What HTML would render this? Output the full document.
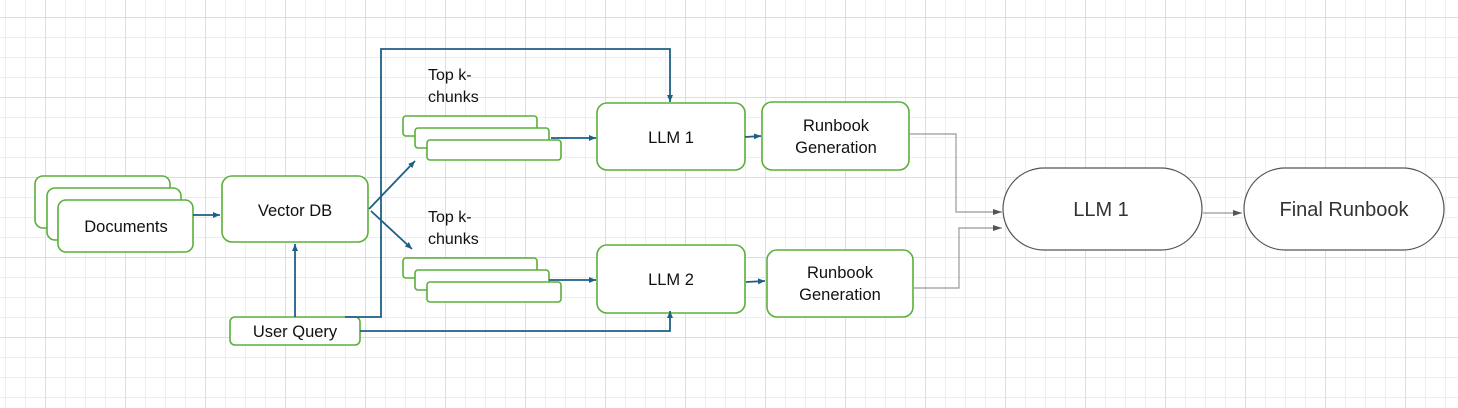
<!DOCTYPE html>
<html><head><meta charset="utf-8"><style>
html,body{margin:0;padding:0;background:#fff;}
svg{display:block;}
text{font-family:"Liberation Sans",sans-serif;fill:#111;}
</style></head><body>
<svg width="1458" height="408" viewBox="0 0 1458 408" xmlns="http://www.w3.org/2000/svg">
<defs>
<pattern id="minor" x="5" y="17" width="20" height="20" patternUnits="userSpaceOnUse">
<path d="M0 0H20M0 0V20" stroke="#e4e4e4" stroke-width="1.2" fill="none"/>
</pattern>
<pattern id="major" x="45" y="17" width="80" height="80" patternUnits="userSpaceOnUse">
<path d="M0 0H80M0 0V80" stroke="#cfcfcf" stroke-width="1.3" fill="none"/>
</pattern>
<marker id="ab" markerWidth="8" markerHeight="8" refX="7" refY="4" orient="auto" markerUnits="userSpaceOnUse"><path d="M0 1L7 4L0 7z" fill="#1f5f87"/></marker>
<marker id="ag" markerWidth="10" markerHeight="8" refX="9" refY="4" orient="auto" markerUnits="userSpaceOnUse"><path d="M0 1L9 4L0 7z" fill="#555"/></marker>
</defs>
<rect width="1458" height="408" fill="url(#minor)"/>
<rect width="1458" height="408" fill="url(#major)"/>

<g fill="#fff" stroke="#5aaf3c" stroke-width="1.6">
<rect x="35" y="176" width="135" height="52" rx="8"/>
<rect x="47" y="188" width="134" height="52" rx="8"/>
<rect x="58" y="200" width="135" height="52" rx="8"/>
<rect x="222" y="176" width="146" height="66" rx="10"/>
<rect x="230" y="317" width="130" height="28" rx="5"/>
<rect x="403" y="116" width="134" height="20" rx="3"/>
<rect x="415" y="128" width="134" height="20" rx="3"/>
<rect x="427" y="140" width="134" height="20" rx="3"/>
<rect x="403" y="258" width="134" height="20" rx="3"/>
<rect x="415" y="270" width="134" height="20" rx="3"/>
<rect x="427" y="282" width="134" height="20" rx="3"/>
<rect x="597" y="103" width="148" height="67" rx="10"/>
<rect x="597" y="245" width="148" height="68" rx="10"/>
<rect x="762" y="102" width="147" height="68" rx="10"/>
<rect x="767" y="250" width="146" height="67" rx="10"/>
</g>

<g fill="none" stroke="#1f5f87" stroke-width="1.8">
<path d="M193 215H220" marker-end="url(#ab)"/>
<path d="M295 317V244" marker-end="url(#ab)"/>
<path d="M345 317H381V49H670V102" marker-end="url(#ab)"/>
<path d="M360 331H670V311" marker-end="url(#ab)"/>
<path d="M369 209L415 161" marker-end="url(#ab)"/>
<path d="M371 211L412 249" marker-end="url(#ab)"/>
<path d="M551 138H596" marker-end="url(#ab)"/>
<path d="M549 280H596" marker-end="url(#ab)"/>
<path d="M745 137L761 136" marker-end="url(#ab)"/>
<path d="M746 282L765 281" marker-end="url(#ab)"/>
</g>
<g fill="none" stroke="#999" stroke-width="1.2">
<path d="M909 134H956V212H1002" marker-end="url(#ag)"/>
<path d="M913 288H959V228H1002" marker-end="url(#ag)"/>
<path d="M1203 213H1242" marker-end="url(#ag)"/>
</g>
<g fill="#fff" stroke="#555" stroke-width="1.2">
<rect x="1003" y="168" width="199" height="82" rx="41"/>
<rect x="1244" y="168" width="200" height="82" rx="41"/>
</g>

<g font-size="16.5" text-anchor="middle">
<text x="126" y="232">Documents</text>
<text x="295" y="216">Vector DB</text>
<text x="295" y="337">User Query</text>
<text x="671" y="143">LLM 1</text>
<text x="671" y="285">LLM 2</text>
<text x="836" y="131">Runbook</text>
<text x="836" y="153">Generation</text>
<text x="840" y="278">Runbook</text>
<text x="840" y="300">Generation</text>
</g>
<g font-size="16">
<text x="428" y="80">Top k-</text>
<text x="428" y="102">chunks</text>
<text x="428" y="222">Top k-</text>
<text x="428" y="244">chunks</text>
</g>
<g font-size="20" text-anchor="middle">
<text x="1101" y="216" style="fill:#333">LLM 1</text>
<text x="1344" y="216" style="fill:#333">Final Runbook</text>
</g>
</svg>
</body></html>
